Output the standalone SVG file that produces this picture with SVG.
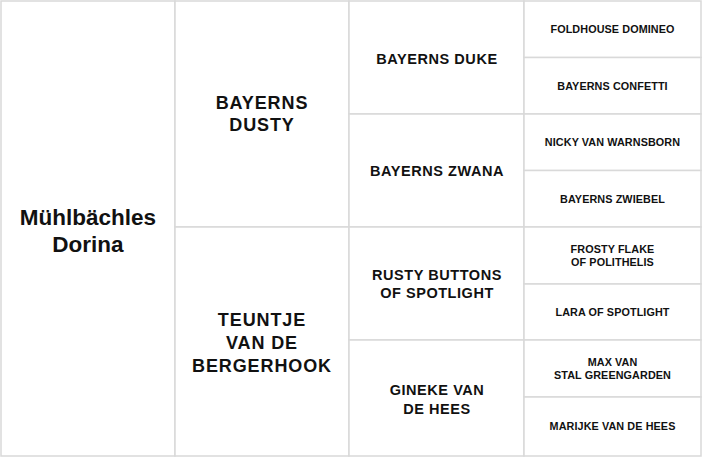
<svg xmlns="http://www.w3.org/2000/svg" width="702" height="460" viewBox="0 0 702 460">
<style>
rect.c{fill:#ffffff;stroke:#d9d9d9;stroke-width:1.5}
text{font-family:"Liberation Sans",Arial,sans-serif;font-weight:bold;fill:#111111;text-anchor:middle}
.t1{font-size:22.5px}
.t2{font-size:18px;letter-spacing:0.9px}
.t3{font-size:14.5px;letter-spacing:0.55px}
.t4{font-size:10.8px;letter-spacing:0.1px}
</style>
<rect x="0" y="0" width="702" height="460" fill="#ffffff"/>
<g id="n-dorina">
<rect class="c" x="1" y="1" width="174" height="455"/>
<text class="t1" x="88" y="225">Mühlbächles</text>
<text class="t1" x="88" y="252">Dorina</text>
</g>
<g id="n-dusty">
<rect class="c" x="175" y="1" width="174" height="226"/>
<text class="t2" x="262" y="109">BAYERNS</text>
<text class="t2" x="262" y="131">DUSTY</text>
</g>
<g id="n-teuntje">
<rect class="c" x="175" y="227" width="174" height="229"/>
<text class="t2" x="262" y="326">TEUNTJE</text>
<text class="t2" x="262" y="349">VAN DE</text>
<text class="t2" x="262" y="372">BERGERHOOK</text>
</g>
<g id="n-duke">
<rect class="c" x="349" y="1" width="175" height="113"/>
<text class="t3" x="437" y="64">BAYERNS DUKE</text>
</g>
<g id="n-zwana">
<rect class="c" x="349" y="114" width="175" height="113"/>
<text class="t3" x="437" y="176">BAYERNS ZWANA</text>
</g>
<g id="n-rusty">
<rect class="c" x="349" y="227" width="175" height="113"/>
<text class="t3" x="437" y="280">RUSTY BUTTONS</text>
<text class="t3" x="437" y="298">OF SPOTLIGHT</text>
</g>
<g id="n-gineke">
<rect class="c" x="349" y="340" width="175" height="116"/>
<text class="t3" x="437" y="395">GINEKE VAN</text>
<text class="t3" x="437" y="414">DE HEES</text>
</g>
<g id="n-foldhouse">
<rect class="c" x="524" y="1" width="177" height="56.5"/>
<text class="t4" x="612.5" y="33">FOLDHOUSE DOMINEO</text>
</g>
<g id="n-confetti">
<rect class="c" x="524" y="57.5" width="177" height="56.5"/>
<text class="t4" x="612.5" y="90">BAYERNS CONFETTI</text>
</g>
<g id="n-nicky">
<rect class="c" x="524" y="114" width="177" height="56.5"/>
<text class="t4" x="612.5" y="146">NICKY VAN WARNSBORN</text>
</g>
<g id="n-zwiebel">
<rect class="c" x="524" y="170.5" width="177" height="56.5"/>
<text class="t4" x="612.5" y="203">BAYERNS ZWIEBEL</text>
</g>
<g id="n-frosty">
<rect class="c" x="524" y="227" width="177" height="57"/>
<text class="t4" x="612.5" y="253">FROSTY FLAKE</text>
<text class="t4" x="612.5" y="266">OF POLITHELIS</text>
</g>
<g id="n-lara">
<rect class="c" x="524" y="284" width="177" height="56"/>
<text class="t4" x="612.5" y="316">LARA OF SPOTLIGHT</text>
</g>
<g id="n-max">
<rect class="c" x="524" y="340" width="177" height="57"/>
<text class="t4" x="612.5" y="366">MAX VAN</text>
<text class="t4" x="612.5" y="379">STAL GREENGARDEN</text>
</g>
<g id="n-marijke">
<rect class="c" x="524" y="397" width="177" height="59"/>
<text class="t4" x="612.5" y="430">MARIJKE VAN DE HEES</text>
</g>
<g id="connectors"></g>
</svg>
